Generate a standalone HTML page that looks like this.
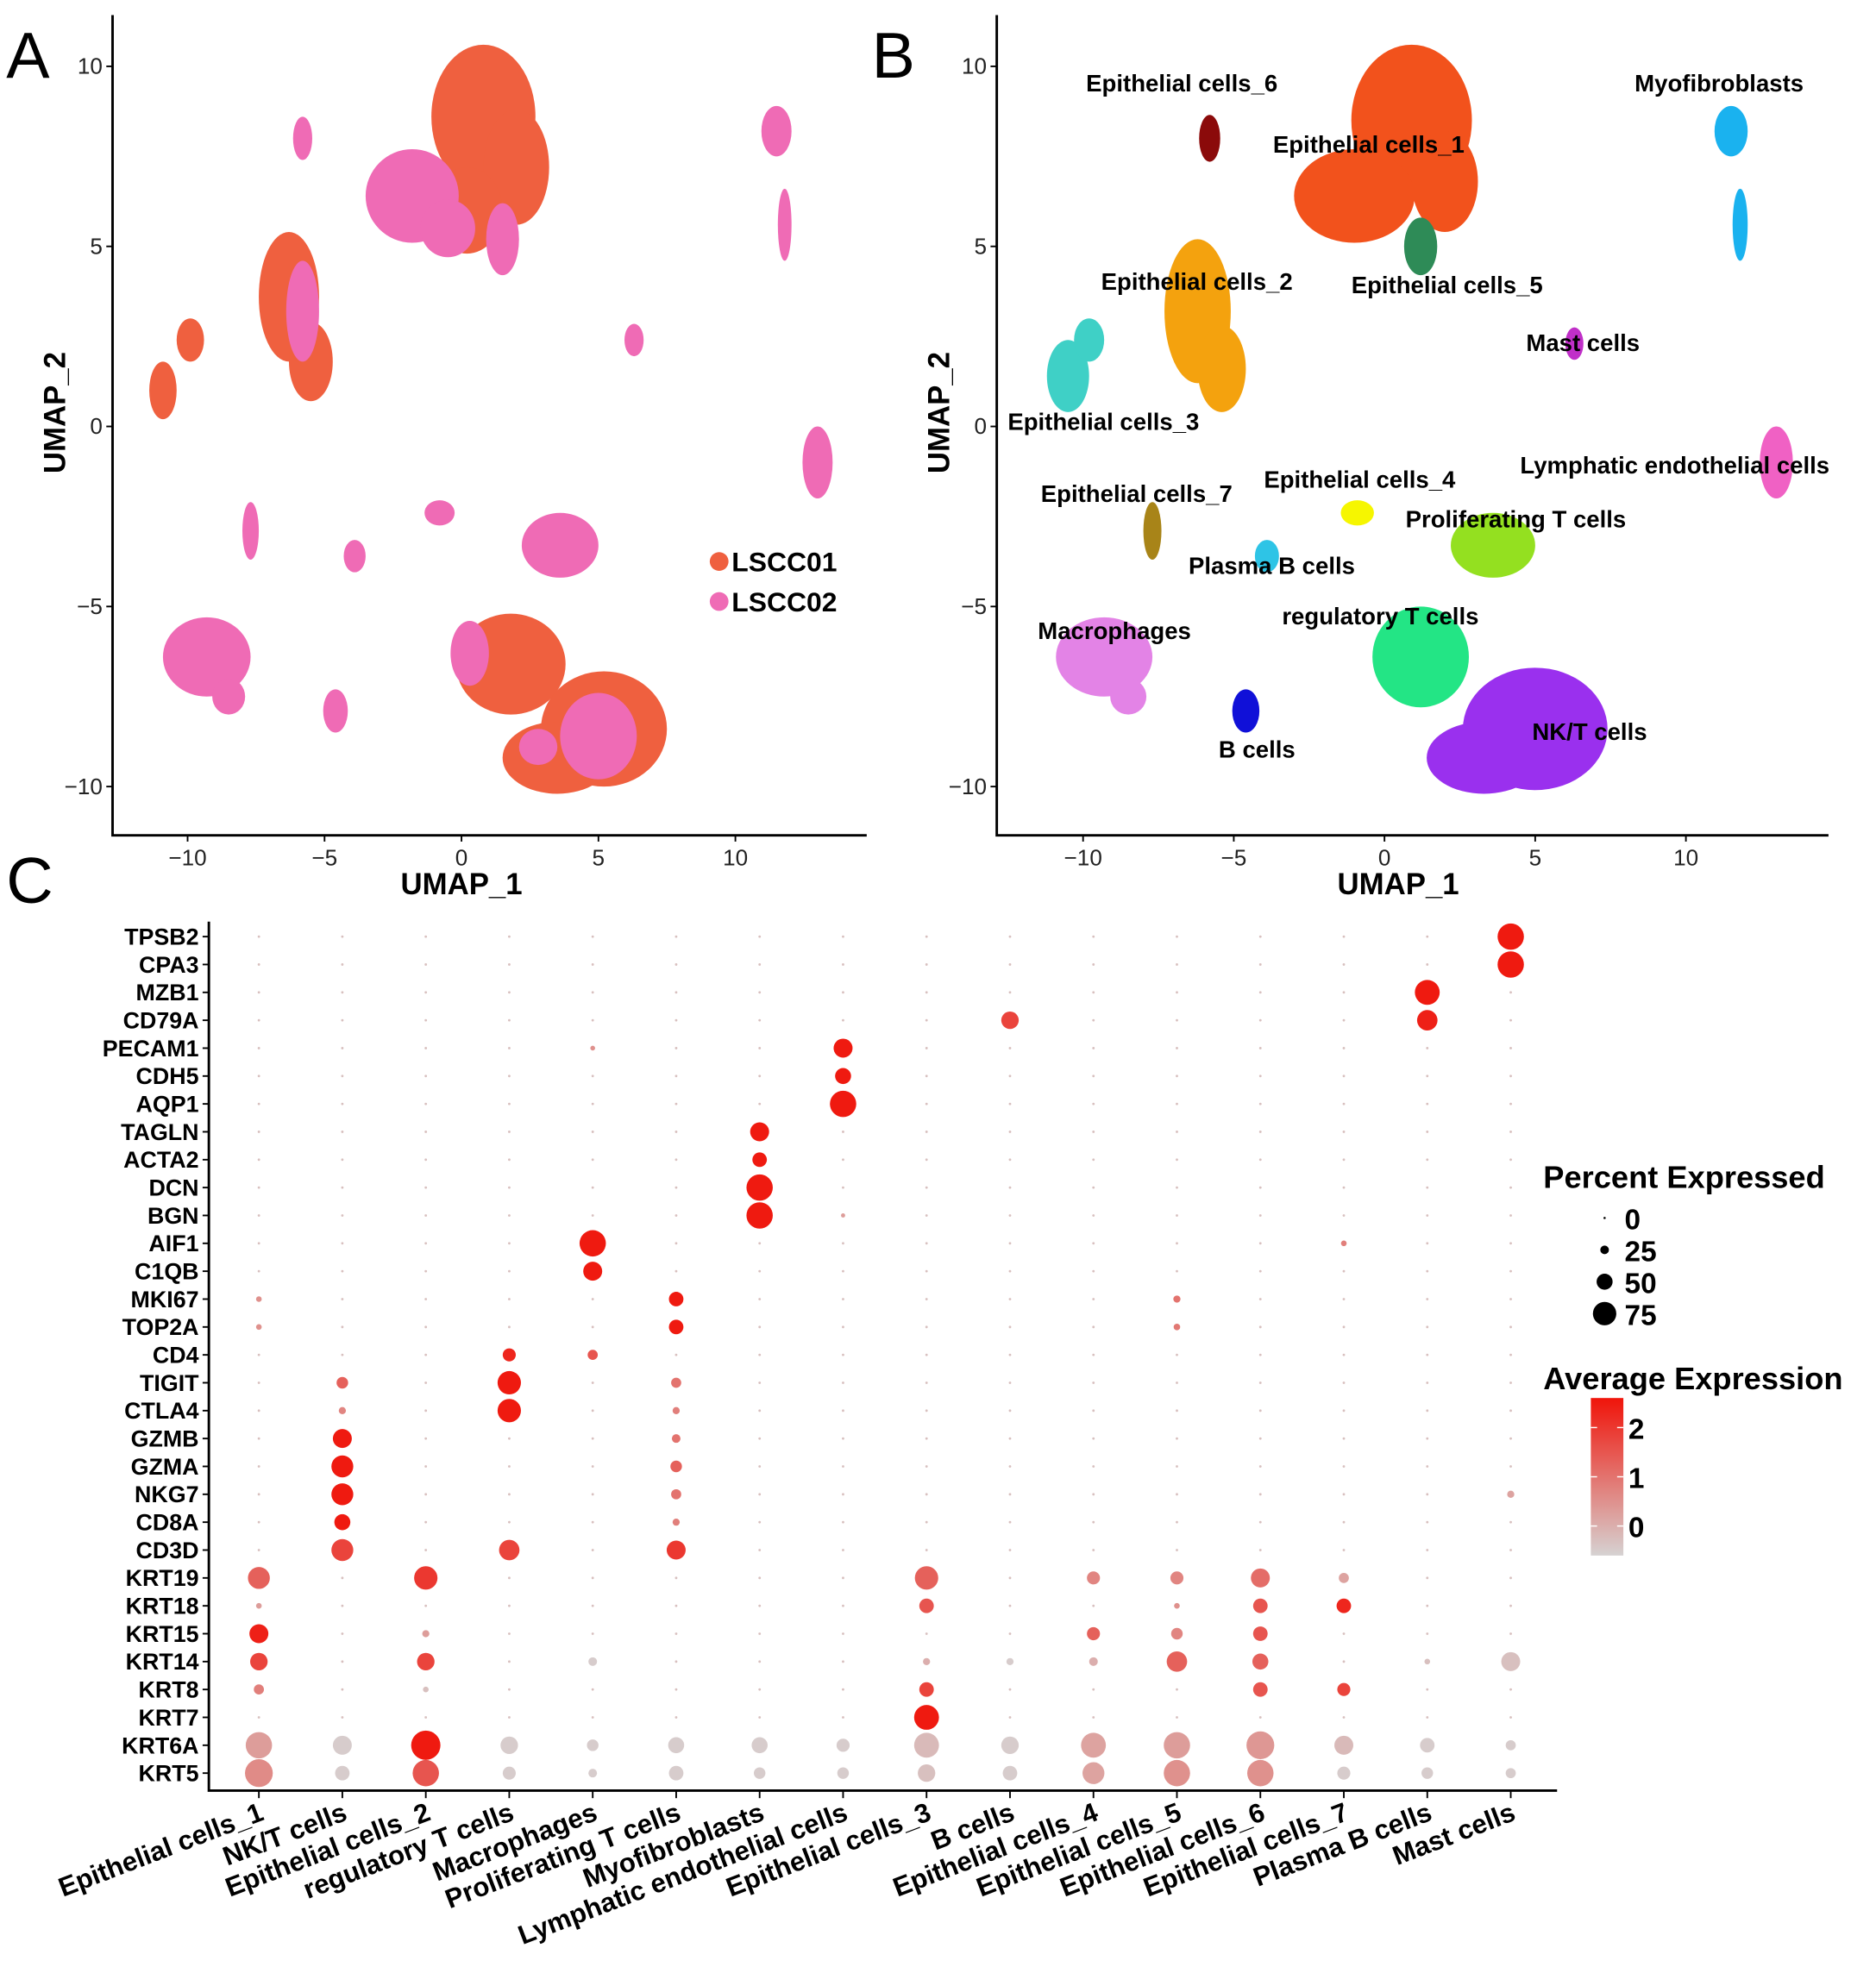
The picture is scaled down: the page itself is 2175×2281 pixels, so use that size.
<!DOCTYPE html>
<html><head><meta charset="utf-8"><style>
html,body{margin:0;padding:0;background:#fff}
svg{display:block}
text{font-family:"Liberation Sans",Arial,sans-serif}
</style></head><body>
<svg id="fig" xmlns="http://www.w3.org/2000/svg" width="2175" height="2281" viewBox="0 0 1500 1573">
<rect width="1500" height="1573" fill="#fff"/>
<g id="panelA"></g>
<g id="panelB"></g>
<g id="panelC"></g>
</svg>
<script>
// ---------- DATA ----------
const umapTicks = [-10, -5, 0, 5, 10];
const blobsA = [
 [0.8,8.6,1.9,2.0,'LSCC01'],[2.0,7.2,1.2,1.6,'LSCC01'],[0.2,6.0,1.3,1.2,'LSCC01'],
 [-1.8,6.4,1.7,1.3,'LSCC02'],[1.5,5.2,0.6,1.0,'LSCC02'],[-0.5,5.5,1.0,0.8,'LSCC02'],
 [-6.3,3.6,1.1,1.8,'LSCC01'],[-5.5,1.8,0.8,1.1,'LSCC01'],[-5.8,3.2,0.6,1.4,'LSCC02'],
 [-5.8,8.0,0.35,0.6,'LSCC02'],
 [-10.9,1.0,0.5,0.8,'LSCC01'],[-9.9,2.4,0.5,0.6,'LSCC01'],
 [11.5,8.2,0.55,0.7,'LSCC02'],[11.8,5.6,0.25,1.0,'LSCC02'],
 [6.3,2.4,0.35,0.45,'LSCC02'],[13.0,-1.0,0.55,1.0,'LSCC02'],
 [-7.7,-2.9,0.3,0.8,'LSCC02'],[-3.9,-3.6,0.4,0.45,'LSCC02'],[-0.8,-2.4,0.55,0.35,'LSCC02'],
 [3.6,-3.3,1.4,0.9,'LSCC02'],
 [-9.3,-6.4,1.6,1.1,'LSCC02'],[-8.5,-7.5,0.6,0.5,'LSCC02'],[-4.6,-7.9,0.45,0.6,'LSCC02'],
 [1.8,-6.6,2.0,1.4,'LSCC01'],[5.2,-8.4,2.3,1.6,'LSCC01'],[3.5,-9.2,2.0,1.0,'LSCC01'],
 [0.3,-6.3,0.7,0.9,'LSCC02'],[5.0,-8.6,1.4,1.2,'LSCC02'],[2.8,-8.9,0.7,0.5,'LSCC02']
];
const sampleNames = ['LSCC01','LSCC02'];
const sampleColors = {'LSCC01':'#ef603f','LSCC02':'#ef6bb5'};
const blobsB = [
 [0.9,8.5,2.0,2.1,'Epithelial cells_1'],[-1.0,6.4,2.0,1.3,'Epithelial cells_1'],[2.0,6.8,1.1,1.4,'Epithelial cells_1'],
 [-6.2,3.2,1.1,2.0,'Epithelial cells_2'],[-5.4,1.6,0.8,1.2,'Epithelial cells_2'],
 [-10.5,1.4,0.7,1.0,'Epithelial cells_3'],[-9.8,2.4,0.5,0.6,'Epithelial cells_3'],
 [-0.9,-2.4,0.55,0.35,'Epithelial cells_4'],
 [1.2,5.0,0.55,0.8,'Epithelial cells_5'],
 [-5.8,8.0,0.35,0.65,'Epithelial cells_6'],
 [-7.7,-2.9,0.3,0.8,'Epithelial cells_7'],
 [11.5,8.2,0.55,0.7,'Myofibroblasts'],[11.8,5.6,0.25,1.0,'Myofibroblasts'],
 [6.3,2.3,0.3,0.45,'Mast cells'],
 [13.0,-1.0,0.55,1.0,'Lymphatic endothelial cells'],
 [3.6,-3.3,1.4,0.9,'Proliferating T cells'],
 [-3.9,-3.6,0.4,0.45,'Plasma B cells'],
 [-9.3,-6.4,1.6,1.1,'Macrophages'],[-8.5,-7.5,0.6,0.5,'Macrophages'],
 [-4.6,-7.9,0.45,0.6,'B cells'],
 [1.2,-6.4,1.6,1.4,'regulatory T cells'],
 [5.0,-8.4,2.4,1.7,'NK/T cells'],[3.3,-9.2,1.9,1.0,'NK/T cells']
];
const clusterColors = {'Epithelial cells_1':'#f2521c','Epithelial cells_2':'#f4a20e','Epithelial cells_3':'#3fd0c6',
 'Epithelial cells_4':'#f6f600','Epithelial cells_5':'#2e8b57','Epithelial cells_6':'#8b0a0a','Epithelial cells_7':'#a88418',
 'Myofibroblasts':'#1ab2ef','Mast cells':'#c02fc8','Lymphatic endothelial cells':'#f061c4','Proliferating T cells':'#94e020',
 'Plasma B cells':'#2ec4e6','Macrophages':'#e383e6','B cells':'#1010d8','regulatory T cells':'#23e585','NK/T cells':'#9a30ee'};
const labelsB = [['Epithelial cells_6',-9.9,9.3],['Epithelial cells_1',-3.7,7.6],['Myofibroblasts',8.3,9.3],
 ['Epithelial cells_2',-9.4,3.8],['Epithelial cells_5',-1.1,3.7],['Mast cells',4.7,2.1],['Epithelial cells_3',-12.5,-0.1],
 ['Lymphatic endothelial cells',4.5,-1.3],['Epithelial cells_4',-4.0,-1.7],['Epithelial cells_7',-11.4,-2.1],
 ['Proliferating T cells',0.7,-2.8],['Plasma B cells',-6.5,-4.1],['regulatory T cells',-3.4,-5.5],
 ['Macrophages',-11.5,-5.9],['NK/T cells',4.9,-8.7],['B cells',-5.5,-9.2]];

const genes = ['TPSB2','CPA3','MZB1','CD79A','PECAM1','CDH5','AQP1','TAGLN','ACTA2','DCN','BGN','AIF1','C1QB','MKI67','TOP2A','CD4','TIGIT','CTLA4','GZMB','GZMA','NKG7','CD8A','CD3D','KRT19','KRT18','KRT15','KRT14','KRT8','KRT7','KRT6A','KRT5'];
const cellTypes = ['Epithelial cells_1','NK/T cells','Epithelial cells_2','regulatory T cells','Macrophages','Proliferating T cells','Myofibroblasts','Lymphatic endothelial cells','Epithelial cells_3','B cells','Epithelial cells_4','Epithelial cells_5','Epithelial cells_6','Epithelial cells_7','Plasma B cells','Mast cells'];
const dotValues = {
 TPSB2:{15:[85,2.5]}, CPA3:{15:[85,2.5]}, MZB1:{14:[80,2.5]}, CD79A:{14:[65,2.4],9:[55,1.8]},
 PECAM1:{7:[60,2.5],4:[12,0.5]}, CDH5:{7:[50,2.5]}, AQP1:{7:[85,2.5]},
 TAGLN:{6:[60,2.5]}, ACTA2:{6:[45,2.5]}, DCN:{6:[85,2.5]}, BGN:{6:[85,2.5],7:[10,0.3]},
 AIF1:{4:[85,2.5],13:[15,0.8]}, C1QB:{4:[60,2.5]},
 MKI67:{0:[15,0.5],5:[45,2.5],11:[20,1.0]}, TOP2A:{0:[15,0.5],5:[45,2.5],11:[18,0.9]},
 CD4:{3:[40,2.3],4:[30,1.5]}, TIGIT:{1:[35,1.3],3:[75,2.5],5:[30,1.0]}, CTLA4:{1:[20,0.7],3:[75,2.5],5:[20,0.8]},
 GZMB:{1:[60,2.5],5:[25,1.0]}, GZMA:{1:[70,2.5],5:[35,1.3]}, NKG7:{1:[70,2.5],5:[30,1.0],15:[20,0.2]},
 CD8A:{1:[50,2.5],5:[20,0.8]}, CD3D:{1:[70,1.8],3:[65,1.8],5:[60,2.0]},
 KRT19:{0:[70,1.3],2:[75,2.0],8:[75,1.3],10:[40,0.7],11:[40,0.7],12:[60,1.1],13:[30,0.2]},
 KRT18:{0:[15,0.3],8:[45,1.5],11:[15,0.5],12:[45,1.5],13:[45,2.3]},
 KRT15:{0:[60,2.4],2:[20,0.3],10:[40,1.3],11:[35,0.7],12:[45,1.5]},
 KRT14:{0:[55,1.8],2:[55,1.8],4:[25,-0.5],8:[20,0.0],9:[20,-0.5],10:[25,0.0],11:[65,1.3],12:[50,1.3],14:[15,-0.3],15:[60,-0.3]},
 KRT8:{0:[30,0.8],2:[15,-0.3],8:[45,1.8],12:[45,1.5],13:[40,1.8]},
 KRT7:{8:[80,2.5]},
 KRT6A:{0:[85,0.3],1:[60,-0.5],2:[95,2.5],3:[55,-0.5],4:[35,-0.5],5:[50,-0.5],6:[50,-0.5],7:[40,-0.5],8:[80,-0.2],9:[55,-0.5],10:[80,0.2],11:[85,0.3],12:[90,0.4],13:[60,-0.2],14:[45,-0.5],15:[30,-0.5]},
 KRT5:{0:[90,0.6],1:[45,-0.5],2:[85,1.5],3:[40,-0.5],4:[25,-0.5],5:[45,-0.5],6:[35,-0.5],7:[35,-0.5],8:[55,-0.3],9:[45,-0.5],10:[70,0.2],11:[85,0.5],12:[85,0.5],13:[40,-0.5],14:[35,-0.5],15:[30,-0.5]}
};
const defaultPct = 4, defaultExpr = -0.3;
const pctLegend = [0,25,50,75];
const exprTicks = [0,1,2];

// ---------- HELPERS ----------
const NS='http://www.w3.org/2000/svg';
function mk(parent, tag, attrs, txt){const e=document.createElementNS(NS,tag);for(const k in attrs)e.setAttribute(k,attrs[k]);if(txt!==undefined)e.textContent=txt;parent.appendChild(e);return e;}

function drawUmap(g, x0, xScale, axisRight, xLabelX){
  const sx=v=>x0+v*xScale, sy=v=>341-v*28.8;
  const ax=mk(g,'g',{});
  
  
  const axLeft = g.id==='panelA'?90:797;
  mk(ax,'path',{d:`M${axLeft} 12 V668 H${axisRight}`,fill:'none',stroke:'#000','stroke-width':2});
  umapTicks.forEach(t=>{
    mk(ax,'line',{x1:axLeft-5,x2:axLeft,y1:sy(t),y2:sy(t),stroke:'#000','stroke-width':1.3});
    const yl=mk(ax,'text',{x:axLeft-8,y:sy(t)+6,'text-anchor':'end','font-size':18,fill:'#222'},t<0?'\u2212'+(-t):t);
    
    
    mk(ax,'line',{x1:sx(t),x2:sx(t),y1:668,y2:673,stroke:'#000','stroke-width':1.3});
    const xl=mk(ax,'text',{x:sx(t),y:692,'text-anchor':'middle','font-size':18,fill:'#222'},t<0?'\u2212'+(-t):t);
    
    
  });
  const xt=mk(ax,'text',{x:xLabelX,y:715,'text-anchor':'middle','font-size':24,'font-weight':'bold'},'UMAP_1');
  
  
  const yx=axLeft-38;
  const yt=mk(ax,'text',{x:yx,y:330,'text-anchor':'middle','font-size':24,'font-weight':'bold',transform:`rotate(-90 ${yx} 330)`},'UMAP_2');
  
  
  return {sx,sy};
}

// ---------- PANEL A ----------
(function(){
  const g=document.getElementById('panelA');
  const {sx,sy}=drawUmap(g,369,21.9,693,369);
  blobsA.forEach(b=>{
    const e=mk(g,'ellipse',{cx:sx(b[0]),cy:sy(b[1]),rx:b[2]*21.9,ry:b[3]*28.8,fill:sampleColors[b[4]]});
    
    
  });
  sampleNames.forEach((s,i)=>{
    const lg=mk(g,'g',{});
    
    
    mk(lg,'circle',{cx:575,cy:449+i*32,r:7.5,fill:sampleColors[s]});
    mk(lg,'text',{x:585,y:457+i*32,'font-size':22,'font-weight':'bold'},s);
  });
  const L=mk(g,'text',{x:5,y:62,'font-size':52},'A');
  
  
})();

// ---------- PANEL B ----------
(function(){
  const g=document.getElementById('panelB');
  const {sx,sy}=drawUmap(g,1107,24.1,1462,1118);
  blobsB.forEach(b=>{
    const e=mk(g,'ellipse',{cx:sx(b[0]),cy:sy(b[1]),rx:b[2]*24.1,ry:b[3]*28.8,fill:clusterColors[b[4]]});
    
    
  });
  labelsB.forEach(l=>{
    const t=mk(g,'text',{x:sx(l[1]),y:sy(l[2]),'font-size':19,'font-weight':'bold'},l[0]);
    
    
  });
  const L=mk(g,'text',{x:697,y:62,'font-size':52},'B');
  
  
})();

// ---------- PANEL C ----------
(function(){
  const g=document.getElementById('panelC');
  const L=mk(g,'text',{x:5,y:722,'font-size':52},'C');
  
  
  const colX=i=>207+i*66.73, rowY=i=>749+i*22.3;
  const rOf=p=>0.5+p*0.118;
  const lo=[214,210,210], hi=[240,20,10], eMin=-0.6, eMax=2.6;
  const col=e=>{let t=(e-eMin)/(eMax-eMin);t=Math.max(0,Math.min(1,t));return `rgb(${lo.map((c,k)=>Math.round(c+(hi[k]-c)*t)).join(',')})`;};
  mk(g,'path',{d:'M167 737 V1432 H1245',fill:'none',stroke:'#000','stroke-width':2});
  genes.forEach((gn,i)=>{
    mk(g,'line',{x1:162,x2:167,y1:rowY(i),y2:rowY(i),stroke:'#000','stroke-width':1.3});
    const t=mk(g,'text',{x:159,y:rowY(i)+6.5,'text-anchor':'end','font-size':18.5,'font-weight':'bold'},gn);
    
    
  });
  cellTypes.forEach((c,j)=>{
    mk(g,'line',{x1:colX(j),x2:colX(j),y1:1432,y2:1438,stroke:'#000','stroke-width':1.3});
    const t=mk(g,'text',{x:colX(j)+5,y:1455,'text-anchor':'end','font-size':21.5,'font-weight':'bold',transform:`rotate(-21 ${colX(j)+5} 1455)`},c);
    
    
  });
  genes.forEach((gn,i)=>{
    cellTypes.forEach((c,j)=>{
      const v=(dotValues[gn]&&dotValues[gn][j])||[defaultPct,defaultExpr];
      const d=mk(g,'circle',{cx:colX(j),cy:rowY(i),r:rOf(v[0]),fill:col(v[1])});
      
      
    });
  });
  const lg=mk(g,'g',{});
  
  
  mk(lg,'text',{x:1234,y:950,'font-size':25,'font-weight':'bold'},'Percent Expressed');
  pctLegend.forEach((p,k)=>{
    const y=974+k*25.5;
    mk(lg,'circle',{cx:1283,cy:y,r:p===0?0.9:rOf(p),fill:'#000'});
    mk(lg,'text',{x:1299,y:y+9,'font-size':23,'font-weight':'bold'},p);
  });
  const cg=mk(g,'g',{});
  
  
  mk(cg,'text',{x:1234,y:1111,'font-size':25,'font-weight':'bold'},'Average Expression');
  const defs=mk(cg,'defs',{});
  const lgr=mk(defs,'linearGradient',{id:'cbar',x1:0,y1:1,x2:0,y2:0});
  mk(lgr,'stop',{offset:0,'stop-color':col(eMin)});
  mk(lgr,'stop',{offset:1,'stop-color':col(eMax)});
  const ey=e=>1244-(e-eMin)/(eMax-eMin)*126;
  mk(cg,'rect',{x:1272,y:1118,width:26,height:126,fill:'url(#cbar)'});
  exprTicks.forEach(t=>{
    mk(cg,'line',{x1:1272,x2:1277,y1:ey(t),y2:ey(t),stroke:'#fff','stroke-width':1});
    mk(cg,'line',{x1:1293,x2:1298,y1:ey(t),y2:ey(t),stroke:'#fff','stroke-width':1});
    mk(cg,'text',{x:1302,y:ey(t)+9,'font-size':23,'font-weight':'bold'},t);
  });
})();
</script>
</body></html>
